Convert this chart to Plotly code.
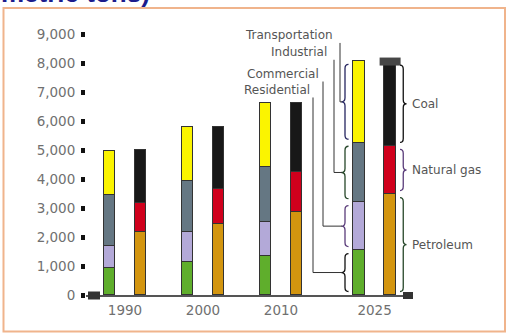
import plotly.graph_objects as go

# ---------------- data (million metric tons) ----------------
years = ["1990", "2000", "2010", "2025"]
residential = [940, 1150, 1340, 1550]
commercial = [750, 1020, 1190, 1650]
industrial = [1750, 1770, 1870, 2050]
transportation = [1540, 1840, 2230, 2820]
petroleum = [2160, 2450, 2870, 3480]
natural_gas = [1010, 1210, 1370, 1660]
coal = [1830, 2140, 2390, 2910]
y_ticks = [0, 1000, 2000, 3000, 4000, 5000, 6000, 7000, 8000, 9000]
y_tick_labels = ["0", "1,000", "2,000", "3,000", "4,000", "5,000", "6,000", "7,000", "8,000", "9,000"]
sector_names = ["Residential", "Commercial", "Industrial", "Transportation"]
fuel_names = ["Petroleum", "Natural gas", "Coal"]

# ---------------- layout helpers ----------------
W, H = 507, 333
ML, MR, MT, MB = 86, 97, 34, 38
PW, PH = W - ML - MR, H - MT - MB
PXU = 78.0                      # pixels per x unit
group_pos = [0, 1, 2, 3.2]
XR0 = -0.5
XR1 = XR0 + PW / PXU
YMAX = 9000
off = 15.5 / PXU
bw = 11.5 / PXU


def xd(px):            # pixel -> x data
    return XR0 + (px - ML) / PXU


def xp(px):            # pixel -> paper x
    return (px - ML) / PW


def yp(py):            # pixel -> paper y
    return (H - MB - py) / PH


def ydu(dpx):          # pixel distance -> y data units
    return dpx * YMAX / PH


sector_colors = ["#5fae2c", "#b3a9d8", "#657783", "#fbf400"]
fuel_colors = ["#d3950f", "#d0001c", "#181818"]
outline = dict(color="#333333", width=1)

fig = go.Figure()
sector_x = [p - off for p in group_pos]
fuel_x = [p + off for p in group_pos]
for name, vals, col in zip(sector_names, [residential, commercial, industrial, transportation], sector_colors):
    fig.add_trace(go.Bar(x=sector_x, y=vals, width=bw, name=name, marker=dict(color=col, line=outline),
                         showlegend=False))
for name, vals, col in zip(fuel_names, [petroleum, natural_gas, coal], fuel_colors):
    fig.add_trace(go.Bar(x=fuel_x, y=vals, width=bw, name=name, marker=dict(color=col, line=outline),
                         showlegend=False))

# cap on the last fuel bar
fuel_total_last = petroleum[-1] + natural_gas[-1] + coal[-1]
fig.add_trace(go.Scatter(x=[fuel_x[-1]], y=[fuel_total_last], mode="markers", showlegend=False,
                         hoverinfo="skip",
                         marker=dict(symbol="line-ew", size=15, line=dict(width=8, color="#464646"))))

shapes = []
annotations = []


def brace(y0, y1, xt, xb, color):
    inset = ydu(3.5)
    y0 += inset
    y1 -= inset
    ym = (y0 + y1) / 2
    c = min(ydu(4), (y1 - y0) / 6)
    xm = (xt + xb) / 2
    path = (f"M {xb},{y1} Q {xm},{y1} {xm},{y1 - c} L {xm},{ym + c} Q {xm},{ym} {xt},{ym} "
            f"Q {xm},{ym} {xm},{ym - c} L {xm},{y0 + c} Q {xm},{y0} {xb},{y0}")
    return dict(type="path", xref="x", yref="y", path=path, line=dict(color=color, width=1.3))


# left braces + leader lines for the 2025 sector bar
s_vals = [residential[-1], commercial[-1], industrial[-1], transportation[-1]]
s_cum = [0]
for v in s_vals:
    s_cum.append(s_cum[-1] + v)
brace_cols_left = ["#111111", "#5a3c7a", "#27472a", "#262660"]
line_x_px = [313, 323, 334, 340]
label_right_px = [312, 321, 329, 335]
label_y = [7070, 7620, 8370, 8950]
for i, name in enumerate(sector_names):
    lo, hi = s_cum[i], s_cum[i + 1]
    mid = (lo + hi) / 2
    shapes.append(brace(lo, hi, xd(341.5), xd(348.5), brace_cols_left[i]))
    lx = xd(line_x_px[i])
    top = label_y[i] - ydu(7.5)
    shapes.append(dict(type="path", xref="x", yref="y",
                       path=f"M {lx},{top} L {lx},{mid} L {xd(342)},{mid}",
                       line=dict(color="#333333", width=1)))
    annotations.append(dict(x=xd(label_right_px[i]), y=label_y[i], xref="x", yref="y", text=name,
                            showarrow=False, xanchor="right", yanchor="middle",
                            font=dict(family="DejaVu Sans", size=12, color="#555555")))

# right braces + labels for the 2025 fuel bar
f_vals = [petroleum[-1], natural_gas[-1], coal[-1]]
f_cum = [0]
for v in f_vals:
    f_cum.append(f_cum[-1] + v)
brace_cols_right = ["#27472a", "#5a3c7a", "#111111"]
for i, name in enumerate(fuel_names):
    lo, hi = f_cum[i], f_cum[i + 1]
    shapes.append(brace(lo, hi, xd(406.5), xd(400), brace_cols_right[i]))
    annotations.append(dict(x=xd(410), y=(lo + hi) / 2, xref="x", yref="y", text=name,
                            showarrow=False, xanchor="left", yanchor="middle",
                            font=dict(family="DejaVu Sans", size=12, color="#555555")))

# axis end blobs
shapes.append(dict(type="rect", xref="paper", yref="paper", x0=xp(88), x1=xp(100), y0=yp(299.5), y1=yp(291.5),
                   fillcolor="#333333", line=dict(width=0)))
shapes.append(dict(type="rect", xref="paper", yref="paper", x0=xp(403), x1=xp(413), y0=yp(299), y1=yp(292),
                   fillcolor="#333333", line=dict(width=0)))
# frame
shapes.append(dict(type="rect", xref="paper", yref="paper", x0=xp(3.5), x1=xp(505), y0=yp(331.5), y1=yp(8),
                   line=dict(color="#f0b48c", width=2), fillcolor="rgba(0,0,0,0)", layer="below"))

# title (cut off at the top edge, as in the source image)
annotations.append(dict(x=xp(-1), y=yp(-7.5), xref="paper", yref="paper", text="<b>metric tons)</b>",
                        showarrow=False, xanchor="left", yanchor="middle",
                        font=dict(family="Liberation Sans", size=26, color="#1c1c8c")))

fig.update_layout(
    width=W, height=H, margin=dict(l=ML, r=MR, t=MT, b=MB, pad=0),
    paper_bgcolor="white", plot_bgcolor="white",
    barmode="stack", bargap=0,
    shapes=shapes, annotations=annotations,
    xaxis=dict(range=[XR0, XR1], tickvals=group_pos, ticktext=years, ticks="", showgrid=False,
               zeroline=False, showline=True, linecolor="#555555", linewidth=1.5,
               ticklabelstandoff=2,
               tickfont=dict(family="DejaVu Sans", size=13.5, color="#707070")),
    yaxis=dict(range=[0, YMAX], tickvals=y_ticks, ticktext=y_tick_labels, ticks="outside", ticklen=4,
               tickwidth=5, tickcolor="#111111", showgrid=False, zeroline=False, showline=False,
               ticklabelstandoff=3,
               tickfont=dict(family="DejaVu Sans", size=13.5, color="#707070")),
)

fig.write_html("out.html")
